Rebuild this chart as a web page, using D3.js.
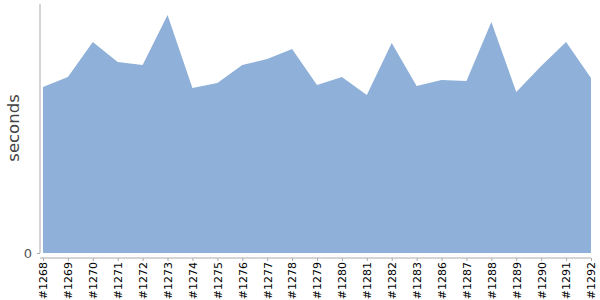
<!DOCTYPE html>
<html>
<head>
<meta charset="utf-8">
<script src="https://cdn.jsdelivr.net/npm/d3@7"></script>
<style>
  body { margin: 0; background: #fff; }
  svg text { font-family: "DejaVu Sans", sans-serif; }
  .axis path, .axis line { stroke: #aaa; }
</style>
</head>
<body>
<div id="chart"></div>
<script>
const builds = ['#1268', '#1269', '#1270', '#1271', '#1272', '#1273', '#1274', '#1275',
    '#1276', '#1277', '#1278', '#1279', '#1280', '#1281', '#1282', '#1283',
    '#1286', '#1287', '#1288', '#1289', '#1290', '#1291', '#1292'];
const seconds = [166, 176, 211, 191, 188, 238, 165, 170,
    188, 194, 204, 168, 176, 158, 210, 167,
    173, 172, 231, 161, 187, 211, 175];
const yTicks = [0];

const width = 600;
const height = 300;

const svg = d3.select('#chart')
    .append('svg')
    .attr('width', width)
    .attr('height', height);

const data = builds.map((b, i) => ({ build: b, value: seconds[i] }));

const x = d3.scalePoint()
    .domain(builds)
    .range([43, 591]);

const y = d3.scaleLinear()
    .domain([0, 249])
    .range([253, 4]);

// area
const area = d3.area()
    .x((d) => x(d.build))
    .y0(y(0))
    .y1((d) => y(d.value));

svg.append('path')
    .datum(data)
    .attr('fill', '#8fb1d9')
    .attr('d', area);

// y axis
const yAxis = svg.append('g')
    .attr('class', 'axis')
    .attr('transform', 'translate(40,0)')
    .call(d3.axisLeft(y).tickValues(yTicks).tickSize(3).tickSizeOuter(0));
yAxis.select('.domain').attr('d', `M0,${y(249)}V${y(0)}`);
yAxis.selectAll('text')
    .attr('fill', '#555')
    .style('font-size', '13px')
    .attr('x', -8)
    .attr('dy', '0.35em');

// x axis
const xAxis = svg.append('g')
    .attr('class', 'axis')
    .attr('transform', 'translate(0,258)')
    .call(d3.axisBottom(x).tickSize(3).tickSizeOuter(0));
xAxis.select('.domain').attr('d', 'M40,0H591');
xAxis.selectAll('text')
    .attr('fill', '#000')
    .style('font-size', '11px')
    .attr('transform', 'rotate(-90)')
    .attr('x', -4)
    .attr('y', 0)
    .attr('dy', '0.35em')
    .attr('text-anchor', 'end');

// y label
svg.append('text')
    .attr('transform', 'translate(19,128) rotate(-90)')
    .attr('text-anchor', 'middle')
    .attr('fill', '#444')
    .style('font-size', '16.5px')
    .text('seconds');
</script>
</body>
</html>
